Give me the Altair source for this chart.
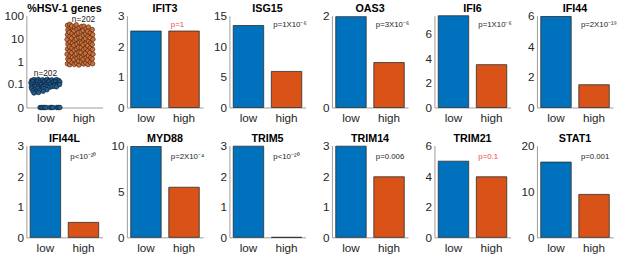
import altair as alt
import pandas as pd

# ---------------- data ----------------
groups = ["low", "high"]
group_fill = ["#245d8f", "#c9743f"]
group_edge = ["#0a2238", "#5a230a"]
bar_colors = ["#0072BD", "#D95319"]

genes = ["IFIT3", "ISG15", "OAS3", "IFI6", "IFI44",
         "IFI44L", "MYD88", "TRIM5", "TRIM14", "TRIM21", "STAT1"]
low_vals = [2.5, 13.4, 1.98, 7.45, 5.95, 2.98, 9.9, 2.98, 2.98, 4.98, 16.4]
high_vals = [2.5, 5.9, 0.98, 3.48, 1.49, 0.49, 5.46, 0.0, 1.98, 3.96, 9.36]
y_max = [3, 15, 2, 7.45, 6, 3, 10, 3, 3, 6, 20]
y_ticks = [[0, 1, 2, 3], [0, 5, 10, 15], [0, 1, 2], [0, 2, 4, 6], [0, 2, 4, 6],
           [0, 1, 2, 3], [0, 5, 10], [0, 1, 2, 3], [0, 1, 2, 3], [0, 2, 4, 6], [0, 10, 20]]
p_labels = ["p=1", "p=1X10⁻⁶", "p=3X10⁻⁶", "p=1X10⁻⁶", "p=2X10⁻¹⁹",
            "p<10⁻²⁰", "p=2X10⁻⁴", "p<10⁻²⁰", "p=0.006", "p=0.1", "p=0.001"]
p_significant = [False, True, True, True, True, True, True, True, True, False, True]

# %HSV-1 genes scatter (x = jittered group position)
scatter_title = "%HSV-1 genes"
scatter_ticks = [0, 0.1, 1, 10, 100]
n_counts = [202, 202]
low_x = [0.64, 0.70, 0.75, 0.81, 0.87, 0.93, 0.99, 1.05, 1.11, 1.17, 1.23, 1.29, 1.35,
         0.62, 0.67, 0.73, 0.79, 0.85, 0.91, 0.97, 1.03, 1.09, 1.15, 1.21, 1.27, 1.33, 1.38,
         0.65, 0.71, 0.77, 0.83, 0.89, 0.95, 1.01, 1.07, 1.13, 1.19, 1.25, 1.31, 1.37,
         0.63, 0.69, 0.75, 0.81, 0.87, 0.93, 0.99, 1.05, 1.11, 1.17, 1.23, 1.29,
         0.64, 0.72, 0.80, 0.88, 0.96, 1.04, 0.67, 0.76, 0.85, 0.94, 0.70, 0.82,
         0.86, 0.90, 0.94, 0.98, 1.02, 1.12, 1.16, 1.20, 1.30, 1.34, 1.38]
low_y = [0.14, 0.155, 0.13, 0.16, 0.14, 0.15, 0.135, 0.16, 0.14, 0.15, 0.13, 0.155, 0.14,
         0.11, 0.12, 0.10, 0.12, 0.11, 0.10, 0.12, 0.11, 0.12, 0.10, 0.115, 0.12, 0.10, 0.12,
         0.09, 0.08, 0.092, 0.085, 0.09, 0.08, 0.093, 0.085, 0.09, 0.08, 0.09, 0.085, 0.09,
         0.07, 0.066, 0.075, 0.07, 0.064, 0.072, 0.076, 0.07, 0.066, 0.072, 0.075, 0.07,
         0.056, 0.05, 0.058, 0.052, 0.057, 0.05, 0.043, 0.039, 0.046, 0.041, 0.033, 0.035,
         0, 0, 0, 0, 0, 0, 0, 0, 0, 0, 0]
high_x = [1.58, 1.59, 1.57, 1.58, 1.59, 1.57, 1.58, 1.59, 1.58,
          1.64, 1.63, 1.65, 1.64, 1.63, 1.65, 1.64, 1.63, 1.65, 1.64,
          1.70, 1.71, 1.69, 1.70, 1.71, 1.69, 1.70, 1.71, 1.69,
          1.76, 1.75, 1.77, 1.76, 1.75, 1.77, 1.76, 1.75, 1.77,
          1.82, 1.83, 1.81, 1.82, 1.83, 1.81, 1.82, 1.83, 1.81,
          1.88, 1.87, 1.89, 1.88, 1.87, 1.89, 1.88, 1.87, 1.89,
          1.94, 1.95, 1.93, 1.94, 1.95, 1.93, 1.94, 1.95,
          2.00, 1.99, 2.01, 2.00, 1.99, 2.01, 2.00, 1.99, 2.01,
          2.06, 2.07, 2.05, 2.06, 2.07, 2.05, 2.06, 2.07,
          2.12, 2.11, 2.13, 2.12, 2.11, 2.13, 2.12, 2.11, 2.13,
          2.18, 2.19, 2.17, 2.18, 2.19, 2.17, 2.18,
          2.24, 2.23, 2.25, 2.24, 2.23, 2.25, 2.24, 2.23]
high_y = [0.8, 1.3, 2.1, 3.5, 5.8, 9.2, 15, 24, 38,
          0.72, 1.1, 1.7, 2.8, 4.4, 7.1, 12, 19, 31, 42,
          0.9, 1.5, 2.4, 3.9, 6.3, 10.5, 17, 28, 36,
          0.75, 1.2, 1.9, 3.1, 5.1, 8.3, 13.5, 22, 33,
          0.85, 1.4, 2.2, 3.6, 5.9, 9.6, 16, 26, 40,
          0.7, 1.05, 1.6, 2.6, 4.2, 6.8, 11, 18, 30,
          0.95, 1.55, 2.5, 4.1, 6.6, 11.5, 20, 34,
          0.78, 1.25, 2.0, 3.3, 5.4, 8.8, 14, 23, 35,
          0.88, 1.45, 2.3, 3.8, 6.1, 10, 16.5, 27,
          0.74, 1.15, 1.8, 3.0, 4.9, 7.9, 12.8, 21, 32,
          0.92, 1.5, 2.45, 4.0, 6.5, 11, 18,
          0.8, 1.3, 2.1, 3.4, 5.6, 9.4, 15, 25]

# ---------------- styling ----------------
FONT = "Liberation Sans"
W, H = 78, 94
axis_color = "#9a9a9a"
LABEL_SIZE = 12


def x_axis(values=None, label_expr=None):
    kw = dict(title=None, labelAngle=0, domainColor=axis_color, ticks=False,
              labelPadding=5, minExtent=17, maxExtent=17, grid=False,
              labelFont=FONT, labelFontSize=LABEL_SIZE, labelColor="#262626",
              labelFlush=False, labelOverlap=False)
    if values is not None:
        kw["values"] = values
    if label_expr:
        kw["labelExpr"] = label_expr
    return alt.Axis(**kw)


def y_axis(values, label_expr=None):
    kw = dict(title=None, values=values, tickCount=10, domainColor=axis_color, ticks=False,
              labelPadding=3, minExtent=20, maxExtent=20, grid=False,
              labelFont=FONT, labelFontSize=LABEL_SIZE, labelColor="#262626",
              labelOverlap=False, labelFlush=False)
    if label_expr:
        kw["labelExpr"] = label_expr
    else:
        kw["format"] = "d"
    return alt.Axis(**kw)


def title_layer(t):
    return alt.Chart(pd.DataFrame({"t": [t]})).mark_text(
        align="center", baseline="middle", fontSize=11, font=FONT, fontWeight="bold",
        color="#000000").encode(x=alt.value(W / 2), y=alt.value(-7), text="t:N")


# scatter panel
sc_df = pd.DataFrame({
    "x": low_x + high_x,
    "y": low_y + high_y,
    "group": ["low"] * len(low_x) + ["high"] * len(high_x),
})
sym_labels = ("datum.value == 0 ? '0' : datum.value < 0.5 ? '0.1' : datum.value < 5 ? '1'"
              " : datum.value < 50 ? '10' : '100'")
pts = alt.Chart(sc_df).mark_point(shape="circle", filled=True, size=22, strokeWidth=0.7,
                                  opacity=1).encode(
    x=alt.X("x:Q", scale=alt.Scale(domain=[0.5, 2.5], nice=False, zero=False),
            axis=x_axis([1, 2], "datum.value == 1 ? 'low' : 'high'")),
    y=alt.Y("y:Q", scale=alt.Scale(type="symlog", constant=0.01, domain=[0, 100], nice=False),
            axis=y_axis(scatter_ticks, sym_labels)),
    fill=alt.Fill("group:N", scale=alt.Scale(domain=groups, range=group_fill), legend=None),
    stroke=alt.Stroke("group:N", scale=alt.Scale(domain=groups, range=group_edge), legend=None),
)
n_low = alt.Chart(pd.DataFrame({"n": [f"n={n_counts[0]}"]})).mark_text(
    fontSize=8.5, font=FONT, color="#222222").encode(
    x=alt.datum(1), y=alt.datum(0.3), text="n:N")
n_high = alt.Chart(pd.DataFrame({"n": [f"n={n_counts[1]}"]})).mark_text(
    fontSize=8.5, font=FONT, color="#222222").encode(
    x=alt.datum(2), y=alt.datum(75), text="n:N")
scatter = alt.layer(pts, n_low, n_high, title_layer(scatter_title)).properties(width=W, height=H)


def bar_panel(i):
    df = pd.DataFrame({"group": groups, "value": [low_vals[i], high_vals[i]]})
    bars = alt.Chart(df).mark_bar(stroke="#2a2a2a", strokeWidth=0.8).encode(
        x=alt.X("group:N", sort=groups,
                scale=alt.Scale(paddingInner=0.2, paddingOuter=0.1), axis=x_axis()),
        y=alt.Y("value:Q", scale=alt.Scale(domain=[0, y_max[i]], nice=False),
                axis=y_axis(y_ticks[i])),
        color=alt.Color("group:N", scale=alt.Scale(domain=groups, range=bar_colors), legend=None),
    )
    pcol = "#222222" if p_significant[i] else "#e84a4a"
    ptxt = alt.Chart(pd.DataFrame({"p": [p_labels[i]]})).mark_text(
        align="left", baseline="middle", fontSize=8, font=FONT, color=pcol).encode(
        x=alt.value(45), y=alt.value(10 if i < 5 else 12), text="p:N")
    return alt.layer(bars, ptxt, title_layer(genes[i])).properties(width=W, height=H)


panels = [scatter] + [bar_panel(i) for i in range(len(genes))]

chart = alt.concat(*panels, columns=6, spacing={"row": 9, "column": 5}).properties(
    padding={"left": 3, "top": 0, "right": 0, "bottom": 0},
    background="white",
).configure_view(stroke=None)

chart.save("out.html", embed_options={"renderer": "svg", "actions": False})
